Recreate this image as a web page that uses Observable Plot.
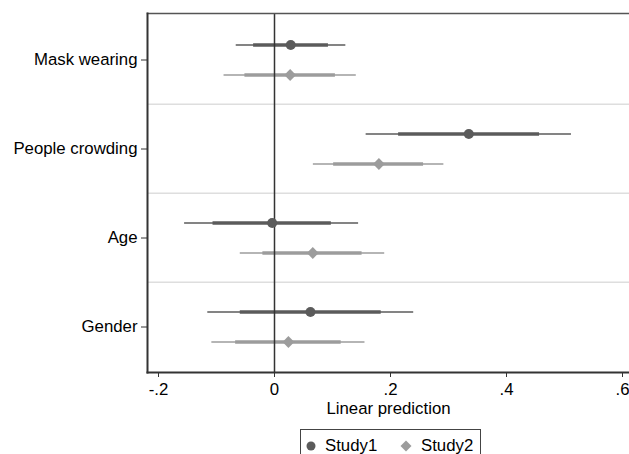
<!DOCTYPE html>
<html>
<head>
<meta charset="utf-8">
<script src="https://cdn.jsdelivr.net/npm/d3@7"></script>
<script src="https://cdn.jsdelivr.net/npm/@observablehq/plot@0.6"></script>
<style>
  html, body { margin: 0; padding: 0; background: #fff; overflow: hidden; }
  body { width: 629px; height: 454px; position: relative; font-family: "Liberation Sans", Arial, sans-serif; }
  #chart { position: absolute; left: 0; top: 0; }
  #legend { position: absolute; left: 300px; top: 429px; width: 179px; height: 32px; border: 1px solid #444; background: #fff; }
  #legend .item { position: absolute; top: 0; font-size: 16.8px; line-height: 1; color: #000; }
  #legend svg { position: absolute; }
</style>
</head>
<body>
<div id="chart"></div>
<div id="legend"></div>
<script>
// ---- data ----
const categories = ["Mask wearing", "People crowding", "Age", "Gender"];
const studies = ["Study1", "Study2"];

const study1Est     = [0.028, 0.335, -0.004, 0.062];
const study1Lo95    = [-0.066, 0.158, -0.155, -0.115];
const study1Hi95    = [0.123, 0.512, 0.145, 0.240];
const study1LoInner = [-0.036, 0.214, -0.106, -0.059];
const study1HiInner = [0.093, 0.457, 0.098, 0.184];

const study2Est     = [0.027, 0.180, 0.066, 0.024];
const study2Lo95    = [-0.087, 0.067, -0.059, -0.108];
const study2Hi95    = [0.141, 0.292, 0.190, 0.156];
const study2LoInner = [-0.051, 0.102, -0.020, -0.067];
const study2HiInner = [0.105, 0.257, 0.151, 0.115];

const xTicks = [-0.2, 0, 0.2, 0.4, 0.6];
const xTickLabels = ["-.2", "0", ".2", ".4", ".6"];

// ---- table ----
function rows(study, est, lo, hi, loI, hiI) {
  return categories.map((c, i) => ({category: c, study, est: est[i], lo: lo[i], hi: hi[i], loI: loI[i], hiI: hiI[i]}));
}
const s1 = rows("Study1", study1Est, study1Lo95, study1Hi95, study1LoInner, study1HiInner);
const s2 = rows("Study2", study2Est, study2Lo95, study2Hi95, study2LoInner, study2HiInner);

const colors = {Study1: "#5b5b5b", Study2: "#9c9c9c"};
const W = 629, H = 425, mT = 13, mB = 53, mL = 147, mR = 0;
const step = (H - mT - mB) / categories.length;
const off = 15;

function seriesMarks(data, dy, color) {
  return [
    Plot.ruleY(data, {y: "category", x1: "lo", x2: "hi", dy, stroke: color, strokeWidth: 1.3}),
    Plot.ruleY(data, {y: "category", x1: "loI", x2: "hiI", dy, stroke: color, strokeWidth: 3.6})
  ];
}
function dotMarks(data, dy, color, symbol, r) {
  return [Plot.dot(data, {x: "est", y: "category", dy, fill: color, stroke: "none", symbol, r})];
}

const plot = Plot.plot({
  width: W, height: H,
  marginTop: mT, marginBottom: mB, marginLeft: mL, marginRight: mR,
  style: {fontFamily: "Liberation Sans, Arial, sans-serif", fontSize: "16.8px", color: "#000", background: "#fff"},
  x: {domain: [-127 / 580, 355 / 580]},
  y: {type: "band", domain: categories, padding: 0},
  marks: [
    Plot.ruleY(categories.slice(1), {y: d => d, dy: -step / 2, stroke: "#dedede", strokeWidth: 1.5}),
    ...seriesMarks(s1, -off, colors.Study1),
    ...seriesMarks(s2, off, colors.Study2),
    Plot.ruleX([0], {stroke: "#333", strokeWidth: 1.5}),
    ...dotMarks(s1, -off, colors.Study1, "circle", 5),
    ...dotMarks(s2, off, colors.Study2, "diamond2", 5.3),
    Plot.frame({anchor: "top", stroke: "#555", strokeWidth: 1.5}),
    Plot.frame({anchor: "left", stroke: "#333", strokeWidth: 2}),
    Plot.frame({anchor: "bottom", stroke: "#333", strokeWidth: 2}),
    Plot.axisX({ticks: xTicks, tickFormat: d => xTickLabels[xTicks.indexOf(d)], tickSize: 5, tickPadding: 6,
      label: "Linear prediction", labelAnchor: "center", labelOffset: 41, labelArrow: "none", stroke: "#333"}),
    Plot.axisY({tickSize: 6, tickPadding: 4, label: null, stroke: "#333"})
  ]
});
document.getElementById("chart").appendChild(plot);

// ---- legend (HTML) ----
const legend = document.getElementById("legend");
const legendItems = [
  {label: studies[0], color: colors.Study1, marker: "circle", mx: 10, tx: 24},
  {label: studies[1], color: colors.Study2, marker: "diamond", mx: 105, tx: 120}
];
legendItems.forEach(it => {
  const ns = "http://www.w3.org/2000/svg";
  const svg = document.createElementNS(ns, "svg");
  svg.setAttribute("width", 14); svg.setAttribute("height", 14);
  svg.style.left = (it.mx - 7) + "px"; svg.style.top = (16 - 7) + "px";
  let shape;
  if (it.marker === "circle") {
    shape = document.createElementNS(ns, "circle");
    shape.setAttribute("cx", 7); shape.setAttribute("cy", 7); shape.setAttribute("r", 4.5);
  } else {
    shape = document.createElementNS(ns, "path");
    shape.setAttribute("d", "M7,1.5L12.5,7L7,12.5L1.5,7Z");
  }
  shape.setAttribute("fill", it.color);
  svg.appendChild(shape);
  legend.appendChild(svg);
  const span = document.createElement("span");
  span.className = "item";
  span.textContent = it.label;
  span.style.left = it.tx + "px";
  span.style.top = "8px";
  legend.appendChild(span);
});
</script>
</body>
</html>
